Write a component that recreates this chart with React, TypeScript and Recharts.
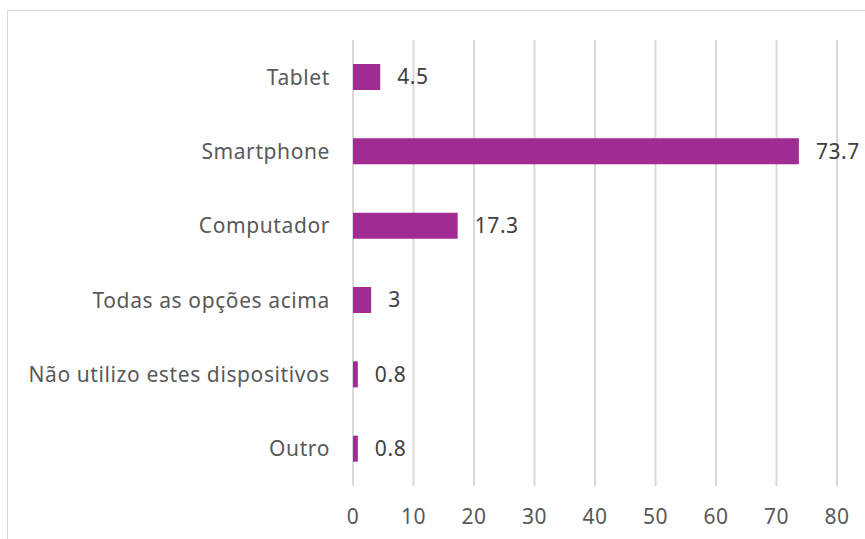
import { Bar, BarChart, CartesianGrid, LabelList, XAxis, YAxis } from 'recharts';

const devices = ['Tablet', 'Smartphone', 'Computador', 'Todas as opções acima', 'Não utilizo estes dispositivos', 'Outro'];
const shares = [4.5, 73.7, 17.3, 3, 0.8, 0.8];
const xTicks = [0, 10, 20, 30, 40, 50, 60, 70, 80];

const rows = devices.map((device, i) => ({ device, share: shares[i] }));

const font = '"Noto Sans", "Open Sans", sans-serif';

export default function App() {
  return (
    <div style={{ position: 'absolute', left: 0, top: 0, width: 865, height: 539, overflow: 'hidden', background: '#fff' }}>
      <div
        style={{
          position: 'absolute',
          left: 7,
          top: 10,
          width: 900,
          height: 600,
          border: '1px solid #d9d9d9',
          boxSizing: 'border-box',
        }}
      />
      <div style={{ position: 'absolute', left: 0, top: 0 }}>
        <BarChart
          width={865}
          height={539}
          data={rows}
          layout="vertical"
          margin={{ top: 40, right: 28, bottom: 0, left: 0 }}
          barSize={26}
          style={{ fontFamily: font, letterSpacing: 0.6 }}
        >
          <CartesianGrid stroke="#d9d9d9" strokeWidth={2} horizontal={false} />
          <XAxis
            type="number"
            domain={[0, 80]}
            ticks={xTicks}
            axisLine={false}
            tickLine={false}
            tickSize={0}
            tickMargin={23}
            height={53}
            tick={{ fill: '#595959', fontSize: 21 }}
          />
          <YAxis
            type="category"
            dataKey="device"
            width={353}
            axisLine={false}
            tickLine={false}
            tickSize={0}
            tickMargin={23}
            interval={0}
            tick={{ fill: '#595959', fontSize: 21 }}
          />
          <Bar dataKey="share" fill="#a02b93" isAnimationActive={false}>
            <LabelList dataKey="share" position="right" offset={17} fill="#404040" fontSize={21} />
          </Bar>
        </BarChart>
      </div>
    </div>
  );
}
